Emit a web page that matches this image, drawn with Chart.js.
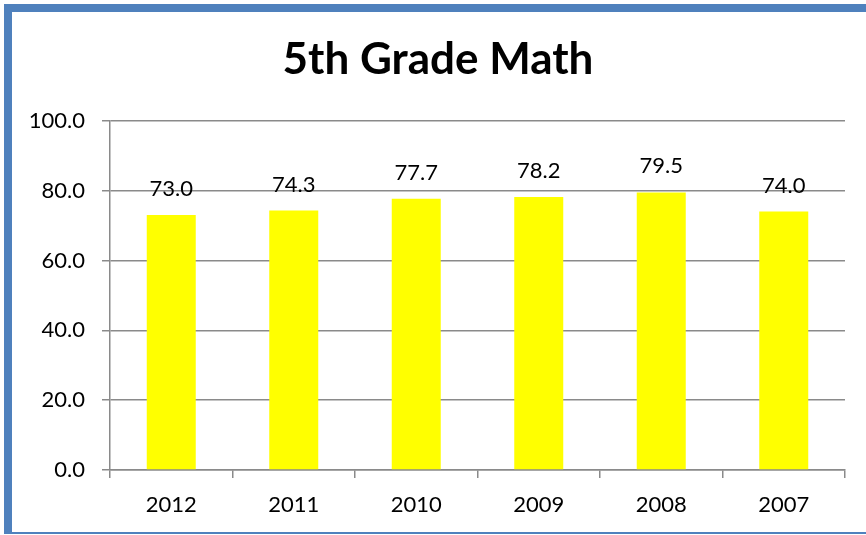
<!DOCTYPE html>
<html>
<head>
<meta charset="utf-8">
<script src="https://cdn.jsdelivr.net/npm/chart.js@4"></script>
<style>
  html, body { margin: 0; padding: 0; background: #fff; overflow: hidden; }
  #wrap { position: relative; width: 866px; height: 535px; }
  #frame {
    position: absolute; left: 4px; top: 4px; width: 880px; height: 520px;
    border-top: 8px solid #4f81bd; border-left: 8px solid #4f81bd;
    border-bottom: 2px solid #4f81bd; pointer-events: none;
  }
  canvas { position: absolute; left: 0; top: 0; }
</style>
</head>
<body>
<div id="wrap">
  <canvas id="chart" width="866" height="535"></canvas>
  <div id="frame"></div>
</div>
<script>
const years = ["2012", "2011", "2010", "2009", "2008", "2007"];
const scores = [73.0, 74.3, 77.7, 78.2, 79.5, 74.0];

const FONT = "Lato, 'Open Sans', sans-serif";

// value labels above each bar
const valueLabels = {
  id: "valueLabels",
  afterDatasetsDraw(chart) {
    const ctx = chart.ctx;
    const meta = chart.getDatasetMeta(0);
    ctx.save();
    ctx.font = "22px " + FONT;
    ctx.fillStyle = "#000";
    ctx.textAlign = "center";
    ctx.textBaseline = "alphabetic";
    meta.data.forEach((bar, i) => {
      ctx.fillText(scores[i].toFixed(1), bar.x, bar.y - 19);
    });
    ctx.restore();
  }
};

new Chart(document.getElementById("chart").getContext("2d"), {
  type: "bar",
  data: {
    labels: years,
    datasets: [{
      label: "Score",
      data: scores,
      backgroundColor: "#ffff00",
      barPercentage: 0.4,
      categoryPercentage: 1.0
    }]
  },
  options: {
    responsive: false,
    animation: false,
    layout: { padding: { left: 10, right: 0, top: 0, bottom: 0 } },
    plugins: {
      legend: { display: false },
      tooltip: { enabled: false },
      title: {
        display: true,
        text: "5th Grade Math",
        color: "#000",
        font: { family: FONT, size: 44, weight: "bold" },
        padding: { top: 33, bottom: 35 }
      }
    },
    scales: {
      x: {
        grid: { drawOnChartArea: false, drawTicks: true, tickLength: 8, color: "#8a8a8a", lineWidth: 1.5, offset: true },
        border: { color: "#8a8a8a", width: 1.5 },
        ticks: { color: "#000", font: { family: FONT, size: 22 }, padding: 14 },
        afterFit(scale) { scale.height = 65; }
      },
      y: {
        min: 0,
        max: 100,
        grid: { color: "#8a8a8a", lineWidth: 1.5, tickLength: 8 },
        border: { color: "#8a8a8a", width: 1.5 },
        ticks: {
          stepSize: 20,
          color: "#000",
          font: { family: FONT, size: 22 },
          padding: 17,
          callback: (v) => v.toFixed(1)
        },
        afterFit(scale) { scale.width = 100; }
      },
      // empty right-hand axis, only reserves the gap after the plot
      yRight: {
        position: "right",
        grid: { display: false },
        border: { display: false },
        ticks: { display: false },
        afterFit(scale) { scale.width = 21; }
      }
    }
  },
  plugins: [valueLabels]
});
</script>
</body>
</html>
